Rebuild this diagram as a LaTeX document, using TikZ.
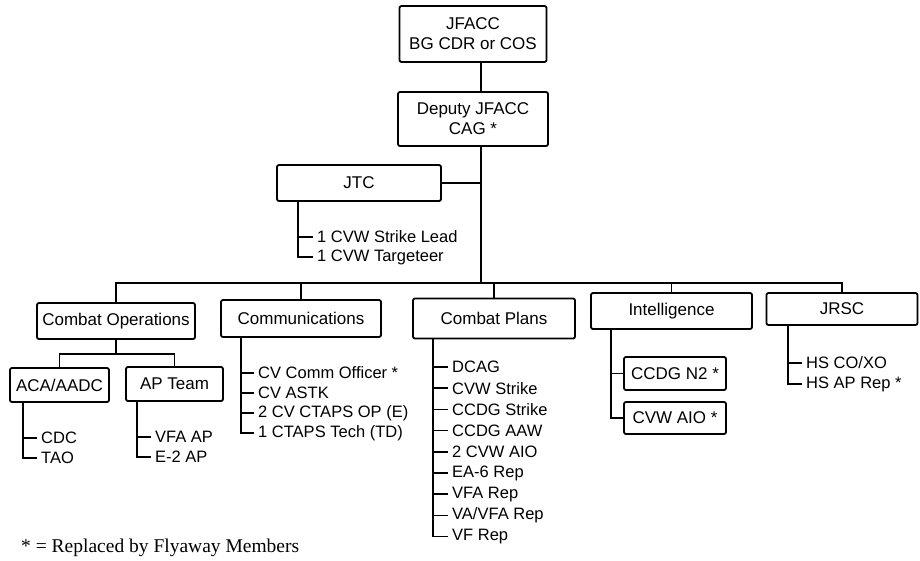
\documentclass[tikz,border=0pt]{standalone}
\usepackage{fontspec}
\setmainfont{Liberation Sans}
\newfontfamily\notefont{Liberation Serif}

\begin{document}
\begin{tikzpicture}[x=1pt,y=-1pt,
    orgbox/.style={draw, line width=1.8pt, rounded corners=2pt, align=center,
        inner sep=0pt, font=\fontsize{17}{20}\selectfont},
    member/.style={anchor=west, inner xsep=4pt, inner ysep=1.5pt, font=\fontsize{16.5}{18}\selectfont},
    link/.style={line width=1.6pt}]

    \useasboundingbox (0,0) rectangle (920,560);

    % lines where the branches run
    \coordinate (trunk) at (481,0);
    \coordinate (bus) at (0,283);
    \coordinate (subbus) at (0,354);
    \coordinate (jtcline) at (298,0);
    \coordinate (acaline) at (23,0);
    \coordinate (apline) at (137,0);
    \coordinate (commsline) at (241,0);
    \coordinate (plansline) at (433,0);
    \coordinate (intelline) at (611,0);
    \coordinate (jrscline) at (788,0);

    % top of the chart
    \node[orgbox, minimum width=147pt, minimum height=56pt] (jfacc) at (473,34) {JFACC\\BG CDR or COS};
    \node[orgbox, minimum width=150pt, minimum height=54pt] (deputy) at (473,119) {Deputy JFACC\\CAG *};
    \node[orgbox, minimum width=164pt, minimum height=36pt] (jtc) at (359,183) {JTC};

    % cells
    \node[orgbox, minimum width=158pt, minimum height=36pt] (combops) at (116,321) {Combat Operations};
    \node[orgbox, minimum width=160pt, minimum height=37pt] (comms) at (301,318.5) {Communications};
    \node[orgbox, minimum width=162pt, minimum height=40pt] (plans) at (494,318.5) {Combat Plans};
    \node[orgbox, minimum width=161pt, minimum height=36pt] (intel) at (671.5,311) {Intelligence};
    \node[orgbox, minimum width=151pt, minimum height=32pt] (jrsc) at (842,309) {JRSC};

    % cells below the cells
    \node[orgbox, minimum width=99pt, minimum height=34pt] (acaaadc) at (59.5,385) {ACA/AADC};
    \node[orgbox, minimum width=97pt, minimum height=34pt] (apteam) at (174.5,384) {AP Team};
    \node[orgbox, minimum width=102pt, minimum height=33pt] (ccdgn2) at (675,373.5) {CCDG N2 *};
    \node[orgbox, minimum width=102pt, minimum height=32pt] (cvwaio) at (675,418) {CVW AIO *};

    % members
    \foreach \txt [count=\i] in {1 CVW Strike Lead, 1 CVW Targeteer}
        \node[member] (jtc\i) at (313,217+20*\i) {\txt};
    \foreach \txt [count=\i] in {CDC, TAO}
        \node[member] (aca\i) at (37,418+20*\i) {\txt};
    \foreach \txt [count=\i] in {VFA AP, E-2 AP}
        \node[member] (ap\i) at (151,417+20*\i) {\txt};
    \foreach \txt [count=\i] in {CV Comm Officer *, CV ASTK, 2 CV CTAPS OP (E), 1 CTAPS Tech (TD)}
        \node[member] (comms\i) at (254,353+20*\i) {\txt};
    \foreach \txt [count=\i] in {DCAG, CVW Strike, CCDG Strike, CCDG AAW, 2 CVW AIO, EA-6 Rep, VFA Rep, VA/VFA Rep, VF Rep}
        \node[member] (plans\i) at (448,345.8+21.2*\i) {\txt};
    \foreach \txt [count=\i] in {HS CO/XO, HS AP Rep *}
        \node[member] (jrsc\i) at (802,342+21*\i) {\txt};

    % chain of command
    \draw[link] (jfacc.south -| trunk) -- (deputy.north -| trunk);
    \draw[link] (deputy.south -| trunk) -- (trunk |- bus);
    \draw[link] (jtc.east) -- (jtc.east -| trunk);
    \draw[link] (combops.north) |- (bus -| jrsc.north) -- (jrsc.north);
    \foreach \b in {comms,plans,intel}
        \draw[link] (\b.north) -- (\b.north |- bus);
    \draw[link] (combops.south) -- (combops.south |- subbus);
    \draw[link] (acaaadc.north) |- (apteam.north |- subbus) -- (apteam.north);

    % member brackets
    \draw[link] (jtc.south -| jtcline) |- (jtc2.west);
    \draw[link] (jtc1.west -| jtcline) -- (jtc1.west);
    \draw[link] (acaaadc.south -| acaline) |- (aca2.west);
    \draw[link] (aca1.west -| acaline) -- (aca1.west);
    \draw[link] (apteam.south -| apline) |- (ap2.west);
    \draw[link] (ap1.west -| apline) -- (ap1.west);
    \draw[link] (comms.south -| commsline) |- (comms4.west);
    \foreach \i in {1,2,3}
        \draw[link] (comms\i.west -| commsline) -- (comms\i.west);
    \draw[link] (plans.south -| plansline) |- (plans9.west);
    \foreach \i in {1,...,8}
        \draw[link] (plans\i.west -| plansline) -- (plans\i.west);
    \draw[link] (intel.south -| intelline) |- (cvwaio.west);
    \draw[link] (ccdgn2.west -| intelline) -- (ccdgn2.west);
    \draw[link] (jrsc.south -| jrscline) |- (jrsc2.west);
    \draw[link] (jrsc1.west -| jrscline) -- (jrsc1.west);

    % footnote
    \node[anchor=west, inner sep=0pt, font=\notefont\fontsize{19.5}{22}\selectfont] (note) at (21,548) {* = Replaced by Flyaway Members};

\end{tikzpicture}
\end{document}
